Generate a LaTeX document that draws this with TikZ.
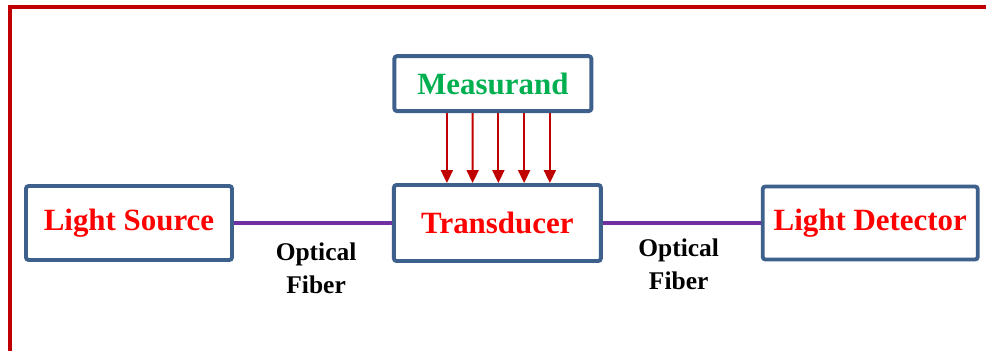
\documentclass[tikz,border=0pt]{standalone}
\usepackage{fontspec}
\setmainfont{Liberation Serif}
\usepackage{xcolor}
\usepackage{tikz}
\usetikzlibrary{arrows.meta, positioning, calc}

\definecolor{framered}{RGB}{192,0,0}
\definecolor{boxblue}{RGB}{62,96,140}
\definecolor{fiberpurple}{RGB}{112,48,160}
\definecolor{textgreen}{RGB}{0,176,80}

\begin{document}
\begin{tikzpicture}[
        node distance=1.4cm and 3.16cm,
        box/.style={draw=boxblue, line width=2.2pt, rounded corners=1.5pt, rectangle, fill=white, minimum width=4.12cm, minimum height=1.48cm, inner sep=0pt, font=\bfseries\fontsize{17.6}{21}\selectfont, text=red},
        arrow/.style={-{Stealth[length=2.6mm, width=2.4mm, inset=0pt]}, line width=1.1pt, color=framered},
        fiber/.style={line width=2.2pt, color=fiberpurple},
        label/.style={align=center, font=\bfseries\fontsize{14.5}{18.8}\selectfont, inner sep=0pt}
    ]
        \useasboundingbox (0,0) rectangle (19.72,-7.02);
        % Frame
        \draw[framered, line width=2.6pt] (0.2,-7.02) -- (0.2,-0.14) -- (19.72,-0.14);

        % Nodes
        \node[box] (source) at (2.58,-4.46) {Light Source};
        \node[box, right=of source, minimum width=4.14cm, minimum height=1.52cm] (trans) {Transducer};
        \node[box, right=of trans, minimum width=4.3cm, minimum height=1.46cm] (detector) {Light Detector};
        \node[box, above=of trans, xshift=-0.09cm, minimum width=3.94cm, minimum height=1.1cm, text=textgreen] (meas) {Measurand};

        % Sub-labels
        \node[label] (fiber_in) at ($(source.east)!0.52!(trans.west)+(0,-0.9)$) {Optical\\Fiber};
        \node[label] (fiber_out) at ($(trans.east)!0.48!(detector.west)+(0,-0.82)$) {Optical\\Fiber};

        % Fibers
        \draw[fiber] (source) -- (trans);
        \draw[fiber] (trans) -- (detector);

        % Arrows
        \foreach \i in {-2,...,2}
            \draw[arrow] ($(meas.south)+(0.11+\i*0.515,0)$) -- ($(trans.north)+(0.02+\i*0.515,0)$);
    \end{tikzpicture}
\end{document}
